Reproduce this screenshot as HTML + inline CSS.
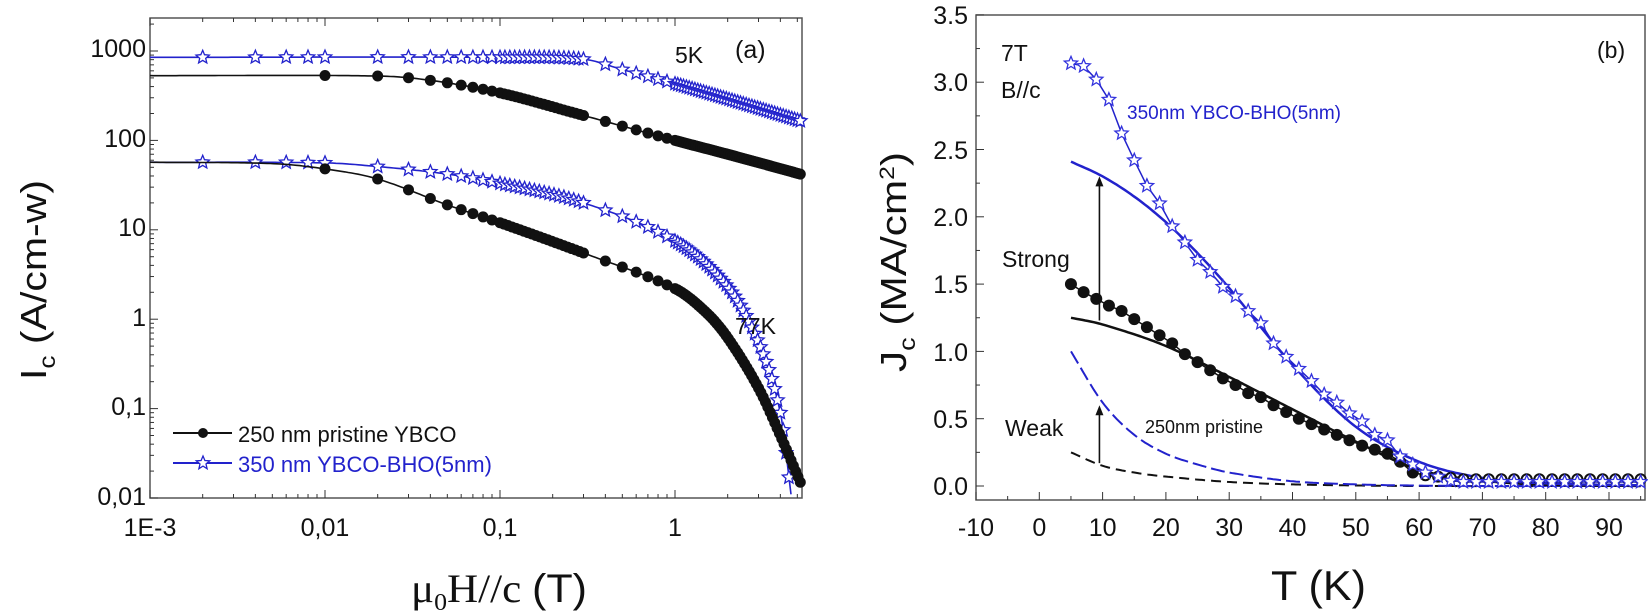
<!DOCTYPE html>
<html><head><meta charset="utf-8"><style>
html,body{margin:0;padding:0;background:#fff;}
svg{display:block;font-family:"Liberation Sans",sans-serif;}
</style></head><body>
<svg id="s" width="1648" height="613" viewBox="0 0 1648 613" xmlns="http://www.w3.org/2000/svg">
<rect width="1648" height="613" fill="#fff"/>
<g id="g"></g>
<g font-size="25" fill="#111">
<text x="146" y="57" text-anchor="end">1000</text>
<text x="146" y="147" text-anchor="end">100</text>
<text x="146" y="236" text-anchor="end">10</text>
<text x="146" y="326" text-anchor="end">1</text>
<text x="146" y="415" text-anchor="end">0,1</text>
<text x="146" y="505" text-anchor="end">0,01</text>
<text x="150" y="536" text-anchor="middle">1E-3</text>
<text x="325" y="536" text-anchor="middle">0,01</text>
<text x="500" y="536" text-anchor="middle">0,1</text>
<text x="675" y="536" text-anchor="middle">1</text>
</g>
<text transform="translate(46,380) rotate(-90)" font-size="36" fill="#111" textLength="200" lengthAdjust="spacingAndGlyphs">I<tspan font-size="23" dy="9">c</tspan><tspan dy="-9"> (A/cm-w)</tspan></text>
<text x="411" y="602" font-size="40" fill="#111" font-family="Liberation Serif,serif" textLength="176" lengthAdjust="spacingAndGlyphs">μ<tspan font-size="24" dy="8">0</tspan><tspan dy="-8">H//c </tspan><tspan font-family="Liberation Sans,sans-serif">(T)</tspan></text>
<text x="675" y="63" font-size="23" fill="#111">5K</text>
<text x="735" y="58" font-size="25" fill="#111">(a)</text>
<text x="735" y="334" font-size="23" fill="#111">77K</text>
<text x="238" y="442" font-size="22" fill="#111">250 nm pristine YBCO</text>
<text x="238" y="472" font-size="22" fill="#2222cc">350 nm YBCO-BHO(5nm)</text>
<g font-size="25" fill="#111">
<text x="968" y="24" text-anchor="end">3.5</text>
<text x="968" y="91" text-anchor="end">3.0</text>
<text x="968" y="159" text-anchor="end">2.5</text>
<text x="968" y="226" text-anchor="end">2.0</text>
<text x="968" y="293" text-anchor="end">1.5</text>
<text x="968" y="361" text-anchor="end">1.0</text>
<text x="968" y="428" text-anchor="end">0.5</text>
<text x="968" y="495" text-anchor="end">0.0</text>
</g>
<g id="bx" font-size="25" fill="#111" text-anchor="middle"></g>
<text transform="translate(906,372) rotate(-90)" font-size="36" fill="#111" textLength="220" lengthAdjust="spacingAndGlyphs">J<tspan font-size="23" dy="9">c</tspan><tspan dy="-9"> (MA/cm</tspan><tspan font-size="21" dy="-12">2</tspan><tspan dy="12">)</tspan></text>
<text x="1271" y="600" font-size="42" fill="#111" textLength="95" lengthAdjust="spacingAndGlyphs">T (K)</text>
<text x="1001" y="61" font-size="23" fill="#111">7T</text>
<text x="1001" y="98" font-size="23" fill="#111">B//c</text>
<text x="1597" y="58" font-size="23" fill="#111">(b)</text>
<text x="1127" y="119" font-size="19" fill="#2222cc">350nm YBCO-BHO(5nm)</text>
<text x="1002" y="267" font-size="23" fill="#111">Strong</text>
<text x="1005" y="436" font-size="23" fill="#111">Weak</text>
<text x="1145" y="433" font-size="18" fill="#111">250nm pristine</text>
</svg>
<script>
const NS="http://www.w3.org/2000/svg";const G=document.getElementById('g');
function el(t,a){const e=document.createElementNS(NS,t);for(const k in a)e.setAttribute(k,a[k]);G.appendChild(e);return e;}
function interp(pts,x){for(let i=0;i<pts.length-1;i++){if(x>=pts[i][0]&&x<=pts[i+1][0]){const t=(x-pts[i][0])/(pts[i+1][0]-pts[i][0]);return pts[i][1]+t*(pts[i+1][1]-pts[i][1]);}}return pts[pts.length-1][1];}
function cr(pts,x){const n=pts.length;for(let i=0;i<n-1;i++){if(x>=pts[i][0]&&x<=pts[i+1][0]){const p0=pts[Math.max(i-1,0)],p1=pts[i],p2=pts[i+1],p3=pts[Math.min(i+2,n-1)];const h=p2[0]-p1[0];const t=(x-p1[0])/h;const m1=(p2[1]-p0[1])/(p2[0]-p0[0])*h,m2=(p3[1]-p1[1])/(p3[0]-p1[0])*h;const t2=t*t,t3=t2*t;return (2*t3-3*t2+1)*p1[1]+(t3-2*t2+t)*m1+(-2*t3+3*t2)*p2[1]+(t3-t2)*m2;}}return pts[n-1][1];}
function star(cx,cy,r,col){let d='';for(let i=0;i<10;i++){const a=-Math.PI/2+i*Math.PI/5;const rr=i%2?r*0.45:r;d+=(i?'L':'M')+(cx+rr*Math.cos(a)).toFixed(1)+','+(cy+rr*Math.sin(a)).toFixed(1);}el('path',{d:d+'Z',fill:'#fff',stroke:col,'stroke-width':1.3});}
const ax=v=>150+175*Math.log10(v/0.001), ay=v=>498-89.4*Math.log10(v/0.01);
el('rect',{x:150,y:18,width:652,height:480,fill:'none',stroke:'#555','stroke-width':1.5});
for(let d=-3;d<=0;d++)for(let m=1;m<10;m++){const v=m*Math.pow(10,d);const x=ax(v);if(x>802)continue;const L=m==1?8:4;el('line',{x1:x,y1:498,x2:x,y2:498-L,stroke:'#333'});el('line',{x1:x,y1:18,x2:x,y2:18+L,stroke:'#333'});}
for(let d=-2;d<=3;d++)for(let m=1;m<10;m++){const v=m*Math.pow(10,d);const y=ay(v);if(y<18)continue;const L=m==1?8:4;el('line',{x1:150,y1:y,x2:150+L,y2:y,stroke:'#333'});}
function logser(pts,col,mk,xs){const P=pts.map(p=>[Math.log10(p[0]),Math.log10(p[1])]);let d='';const n=200;const x0=P[0][0],x1=P[P.length-1][0];for(let i=0;i<=n;i++){const lx=x0+(x1-x0)*i/n;const ly=cr(P,lx);d+=(i?'L':'M')+ax(10**lx).toFixed(1)+','+ay(10**ly).toFixed(1);}el('path',{d,fill:'none',stroke:col,'stroke-width':1.6});
xs.forEach(x=>{const y=10**cr(P,Math.log10(x));if(mk=='c')el('circle',{cx:ax(x),cy:ay(y),r:5.5,fill:'#111'});else star(ax(x),ay(y),7,col);});}
function dense(a,b,n){const r=[];for(let i=0;i<n;i++)r.push(a*Math.pow(b/a,i/(n-1)));return r;}
const sx=[0.002,0.004,0.006,0.008,0.01,0.02,0.03,0.04,0.05,0.06,0.07,0.08,0.09].concat(dense(0.1,0.3,18),[0.4,0.5,0.6,0.7,0.8,0.9],dense(1,5.2,45));
const cx=[0.01,0.02,0.03,0.04,0.05,0.06,0.07,0.08,0.09].concat(dense(0.1,0.3,22),[0.4,0.5,0.6,0.7,0.8,0.9],dense(1,5.2,55));
logser([[0.001,850],[0.1,850],[0.3,810],[0.5,620],[1,430],[2,290],[5.2,165]],'#2222cc','s',sx);
logser([[0.001,530],[0.02,525],[0.04,470],[0.1,340],[0.3,190],[1,100],[2,70],[5.2,42]],'#111','c',cx);
logser([[0.001,57],[0.01,56],[0.02,51],[0.05,42],[0.1,33],[0.3,20],[1,7.5],[2,2.3],[3,0.55],[4,0.09],[4.6,0.011]],'#2222cc','s',sx.filter(x=>x<4.6));
logser([[0.001,57],[0.005,55],[0.01,48],[0.02,37],[0.05,19],[0.1,12],[0.3,5.5],[1,2.2],[1.5,1.2],[2,0.62],[3,0.17],[4,0.05],[5.2,0.015]],'#111','c',cx);
el('line',{x1:173,y1:433,x2:232,y2:433,stroke:'#111','stroke-width':2});el('circle',{cx:203,cy:433,r:5,fill:'#111'});
el('line',{x1:173,y1:463,x2:232,y2:463,stroke:'#2222cc','stroke-width':2});star(203,463,7,'#2222cc');
const bx=T=>976+6.33*(T+10), by=v=>486-134.6*v;
el('rect',{x:976,y:15,width:669,height:485,fill:'none',stroke:'#555','stroke-width':1.5});
const BX=document.getElementById('bx');
for(let T=-10;T<=95;T+=5){const x=bx(T);const L=T%10==0?8:4;el('line',{x1:x,y1:500,x2:x,y2:500-L,stroke:'#333'});if(T%10==0&&T<=90){const t=document.createElementNS(NS,'text');t.setAttribute('x',x);t.setAttribute('y',536);t.textContent=T;BX.appendChild(t);}}
for(let v=0;v<=3.5;v+=0.25){const y=by(v);const L=(Math.round(v*4)%2==0)?8:4;el('line',{x1:976,y1:y,x2:976+L,y2:y,stroke:'#333'});}
function lin(pts,col,w,dash){let d='';const n=200;const a=pts[0][0],b=pts[pts.length-1][0];for(let i=0;i<=n;i++){const T=a+(b-a)*i/n;d+=(i?'L':'M')+bx(T).toFixed(1)+','+by(cr(pts,T)).toFixed(1);}const o={d,fill:'none',stroke:col,'stroke-width':w};if(dash)o['stroke-dasharray']=dash;el('path',o);}
lin([[5,0.25],[10,0.15],[15,0.1],[20,0.07],[30,0.03],[40,0.012],[50,0.004],[60,0],[95,0]],'#111',2,'10,6');
lin([[5,1.0],[10,0.62],[15,0.38],[20,0.24],[25,0.16],[30,0.1],[40,0.035],[50,0.012],[60,0.003],[70,0],[95,0]],'#2222cc',2,'14,5');
lin([[5,1.25],[10,1.2],[20,1.04],[30,0.81],[40,0.57],[50,0.33],[60,0.12],[70,0.04],[80,0.01],[95,0]],'#111',2.5);
lin([[5,2.41],[10,2.3],[15,2.15],[20,1.96],[25,1.73],[30,1.47],[40,0.9],[50,0.44],[60,0.18],[70,0.06],[80,0.02],[95,0.005]],'#2222cc',2.5);
const bs=[[5,3.14],[7,3.12],[9,3.02],[11,2.87],[13,2.62],[15,2.42],[17,2.23],[19,2.1],[21,1.93],[23,1.81],[25,1.68],[27,1.59],[29,1.48],[31,1.41],[33,1.3],[35,1.21],[37,1.06],[39,0.96],[41,0.87],[43,0.78],[45,0.68],[47,0.62],[49,0.54],[51,0.48],[53,0.38],[55,0.34],[57,0.22],[59,0.16],[61,0.1],[63,0.07],[65,0.04],[67,0.03],[95,0.03]];
const cs=[[5,1.5],[7,1.44],[9,1.39],[11,1.34],[13,1.3],[15,1.24],[17,1.18],[19,1.12],[21,1.06],[23,0.98],[25,0.92],[27,0.86],[29,0.8],[31,0.75],[33,0.69],[35,0.66],[37,0.6],[39,0.55],[41,0.5],[43,0.46],[45,0.42],[47,0.38],[49,0.34],[51,0.3],[53,0.27],[55,0.24],[57,0.18],[59,0.1],[61,0.08],[63,0.07],[65,0.06],[67,0.05],[95,0.05]];
function poly(pts,col,w){let d='';pts.forEach((p,i)=>{d+=(i?'L':'M')+bx(p[0]).toFixed(1)+','+by(p[1]).toFixed(1);});el('path',{d,fill:'none',stroke:col,'stroke-width':w});}
poly(bs,'#2222cc',1.5);poly(cs,'#111',1.5);
for(let T=5;T<=59;T+=2)el('circle',{cx:bx(T),cy:by(interp(cs,T)),r:6,fill:'#111'});
for(let T=61;T<=95;T+=2)el('circle',{cx:bx(T),cy:by(interp(cs,T)),r:5,fill:'#fff',stroke:'#111','stroke-width':2});
for(let T=5;T<=95;T+=2)star(bx(T),by(interp(bs,T)),7,'#3333dd');
function arrow(x,y1,y2){el('line',{x1:x,y1:y1,x2:x,y2:y2+8,stroke:'#111','stroke-width':1.6});el('path',{d:`M${x-4},${y2+10}L${x},${y2}L${x+4},${y2+10}Z`,fill:'#111'});}
arrow(bx(9.5),by(1.23),by(2.3));arrow(bx(9.5),by(0.17),by(0.6));
</script>
</body></html>
